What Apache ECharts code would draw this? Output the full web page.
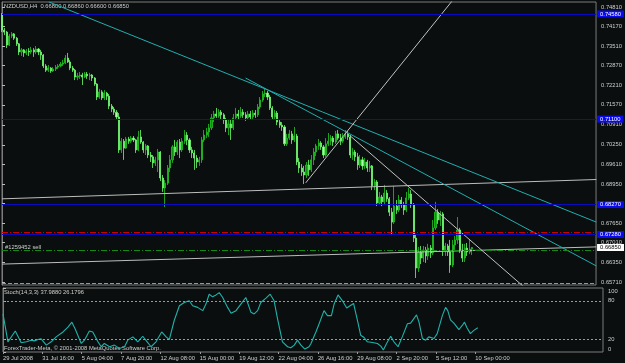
<!DOCTYPE html>
<html><head><meta charset="utf-8">
<script src="https://cdn.jsdelivr.net/npm/echarts@6/dist/echarts.min.js"></script>
<style>html,body{margin:0;padding:0;background:#0a0e0e;}#c{width:625px;height:363px;}</style>
</head><body><div id="c"></div>
<script>
// ---------- data ----------
const headerText = 'NZDUSD,H4  0.66800 0.66860 0.66600 0.66850';
const stochText = 'Stoch(14,3,3) 37.9880 26.1796';
const copyrightText = 'ForexTrader-Meta, \u00a9 2001-2008 MetaQuotes Software Corp.';
const orderText = '#1259452 sell';
const timeLabels = ['29 Jul 2008','31 Jul 16:00','5 Aug 04:00','7 Aug 20:00','12 Aug 08:00','15 Aug 00:00','19 Aug 12:00','22 Aug 04:00','26 Aug 16:00','29 Aug 08:00','2 Sep 20:00','5 Sep 12:00','10 Sep 00:00'];
const barsPerLabel = 16;
const priceTicks = [0.74810,0.74170,0.73510,0.72870,0.72210,0.71570,0.70910,0.70250,0.69610,0.68950,0.68310,0.67650,0.67010,0.66350,0.65710];
const stochTicks = [0,20,80,100];
const stochLevels = [20,80];
// H4 candles: [open, close, low, high]
const candles = [
[0.7455,0.7405,0.7398,0.7461],[0.7405,0.7398,0.7388,0.7412],[0.7398,0.7355,0.7345,0.7402],[0.7355,0.7385,0.7352,0.7392],[0.7385,0.7392,0.7378,0.7398],
[0.7392,0.7378,0.7372,0.7395],[0.7378,0.7359,0.7352,0.7382],[0.7359,0.7332,0.7322,0.7362],[0.7332,0.7339,0.7319,0.7345],[0.7339,0.7329,0.7316,0.7342],
[0.7329,0.7335,0.7322,0.7342],[0.7335,0.7332,0.7319,0.7345],[0.7332,0.7339,0.7325,0.7349],[0.7339,0.7332,0.7316,0.7345],[0.7332,0.7342,0.7325,0.7352],
[0.7342,0.7332,0.7322,0.7345],[0.7332,0.7322,0.7306,0.7339],[0.7322,0.7286,0.7279,0.7325],[0.7286,0.7272,0.7266,0.7292],[0.7272,0.7279,0.7266,0.7289],
[0.7279,0.7269,0.7263,0.7282],[0.7269,0.7276,0.7266,0.7282],[0.7276,0.7282,0.7269,0.7289],[0.7282,0.7286,0.7276,0.7292],[0.7286,0.7292,0.7282,0.7299],
[0.7292,0.7296,0.7286,0.7306],[0.7296,0.7312,0.7292,0.7322],[0.7312,0.7299,0.7296,0.7329],[0.7299,0.7279,0.7272,0.7306],[0.7279,0.7272,0.7266,0.7286],
[0.7272,0.7249,0.7239,0.7276],[0.7249,0.7253,0.7239,0.7263],[0.7253,0.7256,0.7243,0.7266],[0.7256,0.7249,0.7223,0.7263],[0.7249,0.7259,0.7246,0.7266],
[0.7259,0.7253,0.7243,0.7266],[0.7253,0.7256,0.7239,0.7263],[0.7256,0.7246,0.7236,0.7259],[0.7246,0.7226,0.7220,0.7249],[0.7226,0.7183,0.7173,0.7229],
[0.7183,0.7200,0.7177,0.7210],[0.7200,0.7180,0.7173,0.7206],[0.7180,0.7196,0.7173,0.7206],[0.7196,0.7186,0.7173,0.7200],[0.7186,0.7153,0.7143,0.7193],
[0.7153,0.7143,0.7133,0.7160],[0.7143,0.7133,0.7124,0.7150],[0.7133,0.7117,0.7107,0.7140],[0.7117,0.7008,0.6998,0.7130],[0.7008,0.7037,0.6998,0.7047],
[0.7037,0.7014,0.6975,0.7044],[0.7014,0.7044,0.7011,0.7051],[0.7044,0.7037,0.7028,0.7051],[0.7037,0.7047,0.7031,0.7054],[0.7047,0.7041,0.7034,0.7054],
[0.7041,0.7008,0.6998,0.7044],[0.7008,0.7051,0.7004,0.7071],[0.7051,0.7034,0.7028,0.7074],[0.7034,0.7008,0.6998,0.7037],[0.7008,0.7021,0.6991,0.7028],
[0.7021,0.6991,0.6981,0.7024],[0.6991,0.6985,0.6968,0.7001],[0.6985,0.6965,0.6948,0.6991],[0.6965,0.6975,0.6955,0.6985],[0.6975,0.7001,0.6935,0.7011],
[0.7001,0.6915,0.6905,0.7004],[0.6915,0.6882,0.6869,0.6925],[0.6882,0.6898,0.6819,0.6908],[0.6898,0.6948,0.6892,0.6958],[0.6948,0.6975,0.6935,0.6991],
[0.6975,0.7018,0.6965,0.7024],[0.7018,0.7001,0.6988,0.7041],[0.7001,0.7034,0.6991,0.7041],[0.7034,0.7008,0.6981,0.7044],[0.7008,0.7037,0.7001,0.7047],
[0.7037,0.7057,0.7028,0.7074],[0.7057,0.7041,0.7024,0.7067],[0.7041,0.7008,0.6998,0.7047],[0.7008,0.6998,0.6981,0.7018],[0.6998,0.6981,0.6942,0.7008],
[0.6981,0.6968,0.6948,0.6991],[0.6968,0.6975,0.6955,0.6985],[0.6975,0.7041,0.6965,0.7051],[0.7041,0.7057,0.7034,0.7074],[0.7057,0.7067,0.7047,0.7081],
[0.7067,0.7081,0.7051,0.7094],[0.7081,0.7114,0.7074,0.7127],[0.7114,0.7127,0.7100,0.7137],[0.7127,0.7120,0.7114,0.7147],[0.7120,0.7133,0.7114,0.7143],
[0.7133,0.7124,0.7110,0.7140],[0.7124,0.7107,0.7094,0.7130],[0.7107,0.7081,0.7067,0.7114],[0.7081,0.7094,0.7057,0.7107],[0.7094,0.7081,0.7041,0.7107],
[0.7081,0.7114,0.7074,0.7127],[0.7114,0.7127,0.7107,0.7147],[0.7127,0.7120,0.7110,0.7140],[0.7120,0.7133,0.7114,0.7150],[0.7133,0.7124,0.7114,0.7143],
[0.7124,0.7114,0.7104,0.7133],[0.7114,0.7127,0.7107,0.7137],[0.7127,0.7117,0.7107,0.7137],[0.7117,0.7130,0.7110,0.7140],[0.7130,0.7124,0.7114,0.7140],
[0.7124,0.7150,0.7117,0.7160],[0.7150,0.7173,0.7143,0.7183],[0.7173,0.7193,0.7167,0.7203],[0.7193,0.7196,0.7183,0.7210],[0.7196,0.7183,0.7173,0.7203],
[0.7183,0.7147,0.7140,0.7190],[0.7147,0.7117,0.7110,0.7153],[0.7117,0.7130,0.7107,0.7140],[0.7130,0.7100,0.7090,0.7137],[0.7100,0.7090,0.7081,0.7107],
[0.7090,0.7084,0.7071,0.7100],[0.7084,0.7028,0.7021,0.7090],[0.7028,0.7047,0.7021,0.7061],[0.7047,0.7061,0.7041,0.7074],[0.7061,0.7041,0.7028,0.7071],
[0.7041,0.7054,0.7034,0.7084],[0.7054,0.6968,0.6958,0.7061],[0.6968,0.6948,0.6932,0.6981],[0.6948,0.6935,0.6922,0.6961],[0.6935,0.6925,0.6895,0.6955],
[0.6925,0.6958,0.6915,0.6968],[0.6958,0.6942,0.6922,0.6975],[0.6942,0.6975,0.6935,0.6991],[0.6975,0.7001,0.6958,0.7014],[0.7001,0.7021,0.6988,0.7028],
[0.7021,0.7031,0.7008,0.7044],[0.7031,0.7018,0.7008,0.7037],[0.7018,0.6991,0.6981,0.7024],[0.6991,0.7028,0.6985,0.7047],[0.7028,0.7037,0.7021,0.7064],
[0.7037,0.7047,0.7024,0.7057],[0.7047,0.7034,0.7021,0.7054],[0.7034,0.7061,0.7028,0.7071],[0.7061,0.7047,0.7041,0.7074],[0.7047,0.7037,0.7024,0.7061],
[0.7037,0.7051,0.7031,0.7064],[0.7051,0.7061,0.7044,0.7074],[0.7061,0.7051,0.7041,0.7071],[0.7051,0.6991,0.6981,0.7057],[0.6991,0.7001,0.6975,0.7014],
[0.7001,0.6985,0.6971,0.7008],[0.6985,0.6958,0.6942,0.6998],[0.6958,0.6975,0.6948,0.6991],[0.6975,0.6955,0.6942,0.6985],[0.6955,0.6968,0.6945,0.6981],
[0.6968,0.6948,0.6935,0.6975],[0.6948,0.6955,0.6935,0.6971],[0.6955,0.6889,0.6875,0.6958],[0.6889,0.6902,0.6875,0.6912],[0.6902,0.6832,0.6822,0.6908],
[0.6832,0.6852,0.6826,0.6869],[0.6852,0.6836,0.6822,0.6859],[0.6836,0.6865,0.6829,0.6892],[0.6865,0.6846,0.6836,0.6875],[0.6846,0.6802,0.6789,0.6852],
[0.6802,0.6769,0.6726,0.6816],[0.6769,0.6822,0.6763,0.6889],[0.6822,0.6809,0.6796,0.6842],[0.6809,0.6842,0.6802,0.6859],[0.6842,0.6826,0.6816,0.6852],
[0.6826,0.6809,0.6793,0.6836],[0.6809,0.6849,0.6802,0.6869],[0.6849,0.6862,0.6842,0.6882],[0.6862,0.6826,0.6816,0.6875],[0.6826,0.6716,0.6703,0.6832],
[0.6716,0.6617,0.6584,0.6730],[0.6617,0.6670,0.6604,0.6687],[0.6670,0.6650,0.6630,0.6690],[0.6650,0.6677,0.6637,0.6690],[0.6677,0.6657,0.6634,0.6687],
[0.6657,0.6683,0.6644,0.6697],[0.6683,0.6667,0.6650,0.6693],[0.6667,0.6750,0.6660,0.6776],[0.6750,0.6802,0.6743,0.6836],[0.6802,0.6776,0.6763,0.6812],
[0.6776,0.6796,0.6756,0.6806],[0.6796,0.6677,0.6657,0.6802],[0.6677,0.6690,0.6657,0.6700],[0.6690,0.6670,0.6657,0.6697],[0.6670,0.6627,0.6601,0.6710],
[0.6627,0.6693,0.6620,0.6710],[0.6693,0.6710,0.6677,0.6723],[0.6710,0.6743,0.6697,0.6786],[0.6743,0.6677,0.6667,0.6750],[0.6677,0.6650,0.6637,0.6697],
[0.6650,0.6683,0.6637,0.6697],[0.6683,0.6670,0.6657,0.6700],[0.6670,0.6680,0.6663,0.6713],[0.6680,0.6685,0.6660,0.6686]
];
// Stochastic %K vertices: [bar index, value]
const stochK = [
[0,59.5],[2,15.9],[5,32.8],[7.4,14.4],[9.5,15.9],[11.5,18.5],[12.8,17.4],[14.2,19.5],[15.5,20.5],[17.6,10.8],[19.6,15.9],[21.6,23.6],
[24.4,31.3],[26.4,38.9],[28,46.6],[29.3,36.4],[31.8,13.3],[33.1,18.5],[35.1,32.8],[36.5,31.3],[38.6,15.9],[39.9,8.2],[41.2,13.3],[43.3,8.2],
[45.3,10.8],[47.3,5.6],[49.4,8.2],[50.7,18.5],[52.8,23.6],[54.8,15.9],[56.8,24.6],[58.6,15.9],[60.2,8.2],[62.2,15.9],[64.5,31.3],[66.3,23.6],
[67.6,19.5],[69.6,49.2],[71.7,72.3],[73.7,77.4],[75.7,80],[77.1,72.3],[79.1,69.7],[81.2,64.6],[82.5,74.9],[83.8,90.3],[85.2,86.2],[86.6,89.2],
[87.9,92.8],[89.3,85.1],[91.3,69.7],[92.7,60.5],[94.7,64.6],[96.7,74.9],[98.7,85.1],[100.8,62],[102.1,59.5],[103.5,64.6],[104.8,77.4],[106.9,84.1],
[108.6,90.3],[110.2,80],[111.6,51.8],[113.6,15.9],[115.7,8.2],[117,6.7],[118.4,10.8],[119.7,18.5],[121.1,10.8],[122.7,4.6],[124.4,8.2],[125.2,13.3],
[127.2,31.3],[128.5,44.1],[130.5,64.6],[131.9,56.9],[133.5,56.9],[134.6,74.9],[136.2,89.2],[138,80],[139.7,68.7],[141.1,72.3],[142.5,75.9],[144.1,49.2],
[145.4,26.2],[146.8,22.6],[148.1,15.9],[150.2,14.9],[152.2,13.3],[153.6,9.2],[154.6,3.1],[156.3,15.9],[157.6,24.6],[158.9,15.9],[160.6,8.2],[162.3,23.6],
[164.4,44.1],[165.7,45.1],[168.1,58],[169.1,46.6],[170.5,21],[171.8,18.5],[173.1,23.6],[175.2,21],[176.5,28.7],[178.6,56.9],[179.9,69.7],[180.8,64.6],
[181.9,50.3],[183.3,45.1],[185.3,34.9],[186.7,41.5],[187.6,46.6],[188.6,38],[190,28.7],[191.4,33.8],[193,37.99]
];
// trend lines: [[bar index, price], [bar index, price]]
const cyanLine1 = [[19.2,0.7498],[244,0.6769]];
const cyanLine2 = [[100,0.7246],[244,0.6624]];
const downLine = [[142.6,0.7057],[218.5,0.6525]];
const upLine = [[124.7,0.6899],[185.1,0.7504]];
const channelTop = [[0,0.6846],[244,0.6910]];
const channelBottom = [[0,0.6630],[244,0.6687]];
// horizontal levels
const blueLevels = [0.7458,0.7110,0.6827,0.6728];
const redLevel = 0.6736;
const orderLevel = 0.6675;
const stopLevel = 0.6565;
const bidPrice = 0.6685;

// ---------- chart ----------
const FONT = 'Liberation Sans';
const FS = 5.8;
const TXT = '#cfcfcf';
const xMin = 0, xMax = 243.9;
const timeTickValues = timeLabels.map((_, k) => k * barsPerLabel);

const blueLabel = {show:true, position:'end', distance:1, formatter:p=>Number(p.value).toFixed(5), color:'#ffffff', backgroundColor:'#0a0aee', padding:[1,3,0,3], fontSize:FS, fontFamily:FONT};
const markData = blueLevels.map(v => ({yAxis:v, lineStyle:{color:'#0a0ac0', width:1, type:'solid'}, label:blueLabel}));
markData.push({yAxis:redLevel, lineStyle:{color:'#d00000', width:1, type:[6,2,1,2]}, label:{show:false}});
markData.push({yAxis:orderLevel, lineStyle:{color:'#138a13', width:1, type:[6,2,1,2]}, label:{show:false}});
markData.push({yAxis:stopLevel, lineStyle:{color:'#ff6868', width:1, type:[4,2]}, label:{show:false}});
markData.push({yAxis:bidPrice, lineStyle:{color:'rgba(0,0,0,0)', width:0}, label:{show:true, position:'end', distance:1, formatter:p=>Number(p.value).toFixed(5), color:'#000000', backgroundColor:'#ffffff', padding:[1,3,0,3], fontSize:FS, fontFamily:FONT}});

function trend(data, color) {
  return {type:'line', xAxisIndex:0, yAxisIndex:0, data:data, symbol:'none', silent:true, z:4,
    lineStyle:{color:color, width:1}, clip:true, animation:false};
}

const chart = echarts.init(document.getElementById('c'), null, {renderer:'canvas'});
chart.setOption({
  backgroundColor:'#0a0e0e',
  animation:false,
  textStyle:{fontFamily:FONT},
  grid:[
    {left:2, top:2, width:601, height:283, show:true, borderColor:'#7c7c7c', borderWidth:1, backgroundColor:'transparent'},
    {left:2, top:288, width:601, height:64, show:true, borderColor:'#7c7c7c', borderWidth:1, backgroundColor:'transparent'}
  ],
  xAxis:[
    {type:'value', gridIndex:0, min:xMin, max:xMax, show:false, splitLine:{show:false}},
    {type:'value', gridIndex:1, min:xMin, max:xMax, splitLine:{show:false},
      axisLine:{show:false},
      axisTick:{show:true, length:2, lineStyle:{color:'#9a9a9a'}, customValues:timeTickValues},
      axisLabel:{show:true, customValues:timeTickValues, align:'left', margin:3, color:TXT, fontSize:FS, fontFamily:FONT,
        showMinLabel:true, formatter:v => timeLabels[Math.round(v / barsPerLabel)] || ''}}
  ],
  yAxis:[
    {type:'value', gridIndex:0, position:'right', min:0.65608, max:0.74976, splitLine:{show:false},
      axisLine:{show:true, lineStyle:{color:'#7c7c7c'}},
      axisTick:{show:true, length:3, lineStyle:{color:'#bdbdbd'}, customValues:priceTicks},
      axisLabel:{show:true, customValues:priceTicks, margin:5, color:TXT, fontSize:FS, fontFamily:FONT, formatter:v=>v.toFixed(5)}},
    {type:'value', gridIndex:1, position:'right', min:0, max:100, splitLine:{show:false},
      axisLine:{show:true, lineStyle:{color:'#7c7c7c'}},
      axisTick:{show:true, length:3, lineStyle:{color:'#bdbdbd'}, customValues:stochTicks},
      axisLabel:{show:true, customValues:stochTicks, margin:5, color:TXT, fontSize:FS, fontFamily:FONT,
        showMinLabel:true, showMaxLabel:true, verticalAlignMinLabel:'bottom', verticalAlignMaxLabel:'top'}}
  ],
  series:[
    {type:'candlestick', xAxisIndex:0, yAxisIndex:0, z:3,
      data:candles.map((c,i)=>[i, c[0], c[1], c[2], c[3]]),
      encode:{x:0, y:[1,2,3,4]},
      barWidth:1.6,
      itemStyle:{color:'#0e8f0e', color0:'#b4ffb4', borderColor:'#22c822', borderColor0:'#6cff6c', borderWidth:0.8},
      markLine:{symbol:'none', silent:true, animation:false, precision:5, data:markData}
    },
    trend(channelTop, '#bdbdbd'),
    trend(channelBottom, '#bdbdbd'),
    trend(cyanLine1, '#21aeb0'),
    trend(cyanLine2, '#21aeb0'),
    trend(downLine, '#c4c4c4'),
    trend(upLine, '#c4c4c4'),
    {type:'line', xAxisIndex:1, yAxisIndex:1, data:stochK, symbol:'none', silent:true, z:3,
      lineStyle:{color:'#20b2aa', width:1.1},
      markLine:{symbol:'none', silent:true, animation:false, label:{show:false},
        data:stochLevels.map(v=>({yAxis:v, lineStyle:{color:'#9a9a9a', width:1, type:[2,2]}}))}}
  ],
  graphic:[
    {type:'text', left:4, top:3, silent:true, style:{text:headerText, fill:TXT, fontSize:FS, fontFamily:FONT}},
    {type:'text', left:5, top:244.5, silent:true, style:{text:orderText, fill:TXT, fontSize:FS, fontFamily:FONT}},
    {type:'text', left:4, top:289.5, silent:true, style:{text:stochText, fill:TXT, fontSize:FS, fontFamily:FONT}},
    {type:'text', left:4, top:345, silent:true, style:{text:copyrightText, fill:TXT, fontSize:FS, fontFamily:FONT}}
  ]
});
</script>
</body></html>
